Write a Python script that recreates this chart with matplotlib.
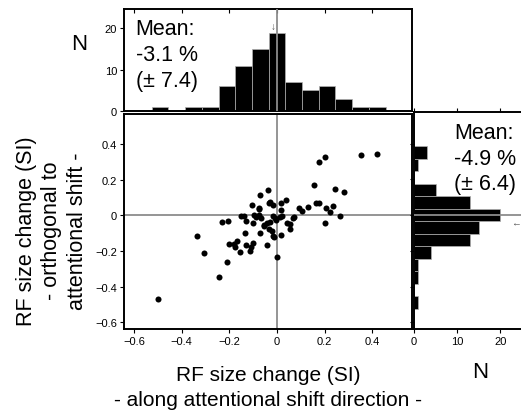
import numpy as np
import matplotlib
matplotlib.use("Agg")
import matplotlib.pyplot as plt

plt.rcParams['font.family'] = ['Liberation Sans', 'DejaVu Sans']

# scatter: SI along shift direction (x) vs orthogonal (y)
si_along = [-0.500, -0.336, -0.306, -0.242, -0.211, -0.229, -0.204, -0.201, -0.180, -0.176,
            -0.169, -0.155, -0.153, -0.139, -0.132, -0.135, -0.130, -0.111, -0.114, -0.100,
            -0.104, -0.100, -0.097, -0.086, -0.075, -0.075, -0.072, -0.075, -0.072, -0.067,
            -0.053, -0.044, -0.030, -0.044, -0.038, -0.033, -0.033, -0.023, -0.028, -0.017,
            -0.017, -0.017, -0.013, -0.010, -0.003, 0.001, 0.011, 0.015, 0.018, 0.018,
            0.021, 0.039, 0.042, 0.056, 0.056, 0.067, 0.071, 0.094, 0.106, 0.131,
            0.157, 0.164, 0.175, 0.178, 0.200, 0.203, 0.206, 0.224, 0.236, 0.244,
            0.264, 0.279, 0.351, 0.421, -0.056]
si_orth = [-0.469, -0.116, -0.214, -0.345, -0.261, -0.038, -0.032, -0.163, -0.159, -0.176,
           -0.145, -0.207, -0.004, -0.004, -0.032, -0.097, -0.167, -0.178, -0.201, -0.158,
           0.058, -0.045, 0.000, -0.008, 0.004, 0.043, 0.115, 0.034, -0.101, -0.017,
           -0.056, -0.045, -0.038, -0.167, 0.143, 0.066, -0.079, -0.088, 0.075, -0.116,
           0.056, -0.004, -0.120, -0.017, -0.026, -0.233, -0.009, 0.030, 0.071, -0.113,
           -0.004, 0.086, -0.041, -0.050, -0.079, -0.013, -0.008, 0.041, 0.026, 0.049,
           0.169, 0.066, 0.071, 0.297, 0.325, -0.041, 0.043, 0.021, 0.053, 0.146,
           -0.004, 0.128, 0.338, 0.344, -0.060]

# histogram bins (centres) and counts
top_centres = [-0.49, -0.42, -0.35, -0.28, -0.21, -0.14, -0.07, 0.0, 0.07, 0.14, 0.21, 0.28, 0.35, 0.42]
top_counts = [1, 0, 1, 1, 6, 11, 15, 19, 7, 5, 6, 3, 1, 1]
right_centres = [0.35, 0.28, 0.21, 0.14, 0.07, 0.0, -0.07, -0.14, -0.21, -0.28, -0.35, -0.42, -0.49]
right_counts = [3, 1, 0, 5, 13, 20, 15, 13, 4, 1, 1, 0, 1]
bin_w = 0.07

top_text = "Mean:\n-3.1 %\n(± 7.4)"
right_text = "Mean:\n-4.9 %\n(± 6.4)"

W, H = 521, 414
fig = plt.figure(figsize=(W / 100, H / 100), dpi=100)

def box(l, t, r, b):
    return [l / W, 1 - b / H, (r - l) / W, (b - t) / H]

ax = fig.add_axes(box(124, 115, 412, 330))
axt = fig.add_axes(box(124, 10, 412, 112))
axr = fig.add_axes(box(414, 113, 522, 330))

xlim = (-0.6415, 0.566)
ax.set_xlim(xlim)
ax.set_ylim(-0.638, 0.568)
grey = '#8c8c8c'
ax.axvline(0, color=grey, lw=1.3, zorder=1)
ax.axhline(0, color=grey, lw=1.3, zorder=1)
ax.scatter(si_along, si_orth, s=19, color='black', zorder=3, linewidths=0)
ax.set_xticks([-0.6, -0.4, -0.2, 0, 0.2, 0.4])
ax.set_yticks([-0.6, -0.4, -0.2, 0, 0.2, 0.4])
ax.set_xticklabels(['\u22120.6', '\u22120.4', '\u22120.2', '0', '0.2', '0.4'])
ax.set_yticklabels(['\u22120.6', '\u22120.4', '\u22120.2', '0', '0.2', '0.4'])

# top histogram
axt.bar(top_centres, top_counts, width=bin_w, color='black', edgecolor='#b0b0b0', linewidth=0.5, zorder=2)
axt.axvline(0, color=grey, lw=1.3, zorder=3)
axt.set_xlim(xlim)
axt.set_ylim(0, 24.7)
axt.set_yticks([0, 10, 20])
axt.set_xticks([-0.6, -0.4, -0.2, 0, 0.2, 0.4])
axt.tick_params(axis='x', labelbottom=False, bottom=False, top=True, direction='in')
axt.text(0.04, 0.91, top_text, transform=axt.transAxes, fontsize=15.5, va='top', ha='left',
         linespacing=1.3)
axt.text(-0.017, 20.6, '\u2193', color='#555555', fontsize=7, ha='center', va='center')

# right histogram
axr.barh(right_centres, right_counts, height=bin_w, color='black', edgecolor='#b0b0b0', linewidth=0.5, zorder=2)
axr.axhline(0, color=grey, lw=1.3, zorder=3)
axr.set_xlim(0, 25)
axr.set_ylim(-0.638, 0.578)
axr.set_xticks([0, 10, 20])
axr.set_yticks([-0.6, -0.4, -0.2, 0, 0.2, 0.4])
axr.tick_params(axis='y', labelleft=False)
axr.tick_params(axis='x', top=True)
axr.text(0.37, 0.955, right_text, transform=axr.transAxes, fontsize=15.5, va='top', ha='left',
         linespacing=1.3)
axr.text(23.6, -0.038, '\u2190', color='#555555', fontsize=7, ha='center', va='center')

for a in (ax, axt, axr):
    for sp in a.spines.values():
        sp.set_linewidth(1.4)
    a.tick_params(labelsize=8, length=3, width=0.8, pad=2)
axr.spines['right'].set_visible(False)

fig.text(79 / W, 1 - 44 / H, 'N', fontsize=16, ha='center', va='center')
fig.text(480 / W, 1 - 373 / H, 'N', fontsize=16, ha='center', va='center')
fig.text(268 / W, 1 - 388 / H, 'RF size change (SI)\n- along attentional shift direction -',
         fontsize=15, ha='center', va='center', linespacing=1.35)
fig.text(52 / W, 1 - 231 / H, 'RF size change (SI)\n- orthogonal to\nattentional shift -',
         fontsize=15.5, ha='center', va='center', rotation=90, linespacing=1.3)

fig.savefig('out.png', dpi=100)
